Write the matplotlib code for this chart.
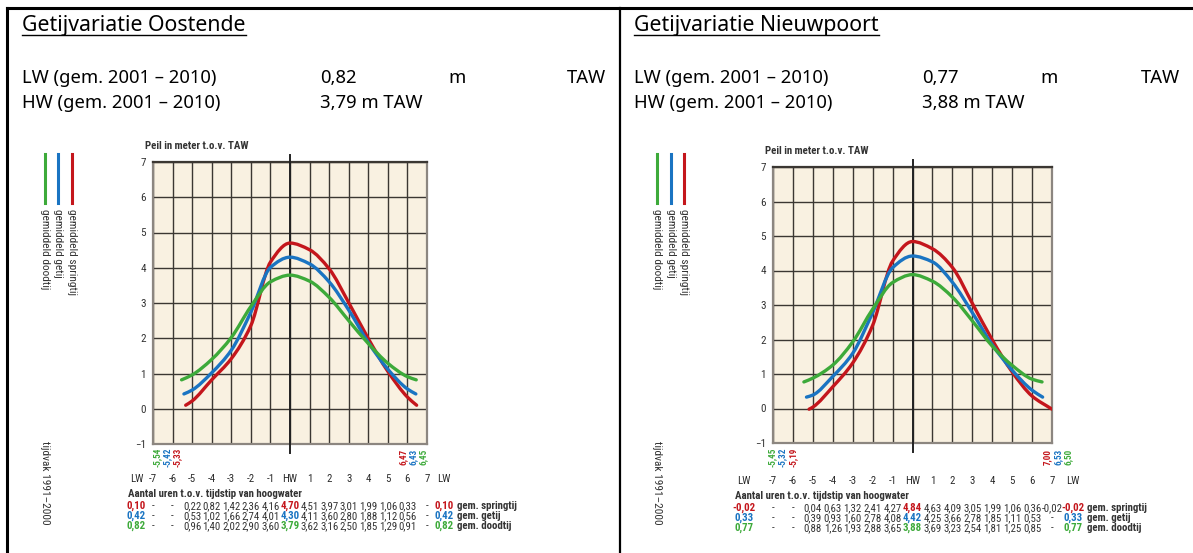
import numpy as np
import matplotlib
matplotlib.use('Agg')
import matplotlib.pyplot as plt
from matplotlib import font_manager as fm
from matplotlib.path import Path
from matplotlib.patches import PathPatch
from matplotlib.lines import Line2D
from matplotlib.transforms import blended_transform_factory

W, H = 1193, 553

# hours relative to high water, shared by both stations
hours = [-5, -4, -3, -2, -1, 0, 1, 2, 3, 4, 5, 6, 7]
series_names = ['gem. springtij', 'gem. getij', 'gem. doodtij']
legend_names = ['gemiddeld springtij', 'gemiddeld getij', 'gemiddeld doodtij']
colors = ['#c4161c', '#1a74c2', '#3daa3a']

# Oostende
oost_lw = [0.10, 0.42, 0.82]
oost_start = [-5.33, -5.42, -5.54]
oost_end = [6.47, 6.43, 6.45]
oost_spring = [0.22, 0.82, 1.42, 2.36, 4.16, 4.70, 4.51, 3.97, 3.01, 1.99, 1.06, 0.33, None]
oost_mean = [0.53, 1.02, 1.66, 2.74, 4.01, 4.30, 4.11, 3.60, 2.80, 1.88, 1.12, 0.56, None]
oost_neap = [0.96, 1.40, 2.02, 2.90, 3.60, 3.79, 3.62, 3.16, 2.50, 1.85, 1.29, 0.91, None]

# Nieuwpoort
nieu_lw = [-0.02, 0.33, 0.77]
nieu_start = [-5.19, -5.32, -5.45]
nieu_end = [7.00, 6.53, 6.50]
nieu_spring = [0.04, 0.63, 1.32, 2.41, 4.27, 4.84, 4.63, 4.09, 3.05, 1.99, 1.06, 0.36, -0.02]
nieu_mean = [0.39, 0.93, 1.60, 2.78, 4.08, 4.42, 4.25, 3.66, 2.78, 1.85, 1.11, 0.53, None]
nieu_neap = [0.88, 1.26, 1.93, 2.88, 3.65, 3.88, 3.69, 3.23, 2.54, 1.81, 1.25, 0.85, None]

TXT = '#333333'
CREAM = '#f9f1e1'
GRID = '#3b3732'
head = ['Noto Sans', 'DejaVu Sans']


def pick_narrow():
    # look for a narrow sans for the small chart lettering
    narrow = {'condensed', 'semi-condensed', 'extra-condensed', 'ultra-condensed'}
    entries = fm.fontManager.ttflist
    for name in ['Liberation Sans Narrow', 'Roboto Condensed', 'Open Sans Condensed',
                 'Noto Sans Display', 'Noto Sans', 'Open Sans', 'DejaVu Sans',
                 'Roboto', 'Inter', 'Lato']:
        for f in entries:
            if f.name != name:
                continue
            if name.endswith(('Narrow', 'Condensed')):
                return name, 'normal', 1.0
            if str(f.stretch) in narrow:
                return name, str(f.stretch), 1.0
    return 'Roboto', 'normal', 0.88


COND, STRETCH, SC = pick_narrow()


def ctext(x, y, s, size, **kw):
    kw.setdefault('color', TXT)
    return fig.text(x, y, s, family=COND, fontstretch=STRETCH,
                    fontsize=size * SC, **kw)


def fx(px):
    return px / W


def fy(py):
    return 1 - py / H


def fmt(v):
    return f'{v:.2f}'.replace('.', ',')


def smooth_path(x, y):
    # cubic bezier through the points, monotone tangents (no overshoot)
    x = np.asarray(x, float)
    y = np.asarray(y, float)
    h = np.diff(x)
    d = np.diff(y) / h
    m = np.zeros_like(y)
    m[0], m[-1] = d[0], d[-1]
    for i in range(1, len(x) - 1):
        if d[i - 1] * d[i] <= 0:
            m[i] = 0.0
        else:
            w1 = 2 * h[i] + h[i - 1]
            w2 = h[i] + 2 * h[i - 1]
            m[i] = (w1 + w2) / (w1 / d[i - 1] + w2 / d[i])
    verts = [(x[0], y[0])]
    codes = [Path.MOVETO]
    for i in range(len(x) - 1):
        verts += [(x[i] + h[i] / 3, y[i] + m[i] * h[i] / 3),
                  (x[i + 1] - h[i] / 3, y[i + 1] - m[i + 1] * h[i] / 3),
                  (x[i + 1], y[i + 1])]
        codes += [Path.CURVE4] * 3
    return Path(verts, codes)


fig = plt.figure(figsize=(W / 100, H / 100), dpi=100)

# frame lines of the sheet
fig.add_artist(Line2D([fx(7), 1], [fy(8), fy(8)], color='black', lw=2.2))
fig.add_artist(Line2D([fx(7), fx(7)], [fy(8), 0], color='black', lw=2.2))
fig.add_artist(Line2D([fx(620), fx(620)], [fy(8), 0], color='black', lw=1.6))


def draw_panel(x0, title, lw_val, hw_val, val_x, unit_x, taw_x,
               box, lw_vals, starts, ends, rows,
               start_px, end_px, lw_pos, ticky, rowy, leg_x):
    # header block
    t = fig.text(fx(x0 + 22), fy(25), title, family=head, fontsize=15.3,
                 color='black', va='center')
    fig.canvas.draw()
    bb = t.get_window_extent()
    fig.add_artist(Line2D([bb.x0 / W, bb.x1 / W], [fy(35), fy(35)],
                          color='black', lw=1.0))
    fig.text(fx(x0 + 22), fy(78), 'LW (gem. 2001 – 2010)', family=head,
             fontsize=13.3, va='center')
    fig.text(fx(x0 + val_x), fy(78), lw_val, family=head, fontsize=13.3,
             va='center')
    fig.text(fx(x0 + unit_x), fy(78), 'm', family=head, fontsize=13.3,
             va='center')
    fig.text(fx(x0 + taw_x), fy(78), 'TAW', family=head, fontsize=13.3,
             va='center', ha='right')
    fig.text(fx(x0 + 22), fy(103), 'HW (gem. 2001 – 2010)', family=head,
             fontsize=13.3, va='center')
    fig.text(fx(x0 + val_x), fy(103), hw_val + ' m TAW', family=head,
             fontsize=13.3, va='center')

    # legend: short vertical strokes with rotated names
    for i in range(3):
        lx = leg_x[i]
        fig.add_artist(Line2D([fx(lx), fx(lx)], [fy(154), fy(203)],
                              color=colors[i], lw=2.2))
        ctext(fx(lx), fy(209), legend_names[i], 8.2, rotation=-90,
              ha='center', va='top')
    ctext(fx(leg_x[2]), fy(483), 'tijdvak 1991–2000', 8.2, rotation=-90,
          ha='center', va='center')

    left, top, right, bottom = box
    ax = fig.add_axes([fx(left), fy(bottom), fx(right - left),
                       (bottom - top) / H])
    ax.set_facecolor(CREAM)
    ax.set_xlim(-7, 7)
    ax.set_ylim(-1, 7)
    ax.set_xticks(range(-7, 8))
    ax.set_yticks(range(-1, 8))
    ax.set_xticklabels([])
    ax.tick_params(length=0, labelsize=8 * SC, colors=TXT, pad=5)
    for lab in ax.get_yticklabels():
        lab.set_family(COND)
        lab.set_stretch(STRETCH)
    ax.grid(True, color=GRID, lw=1.0)
    for s in ax.spines.values():
        s.set_color('#8c8680')
        s.set_linewidth(1.6)
    ax.spines['top'].set_color(GRID)
    ax.plot([0, 0], [-1.25, 7.2], color='#222222', lw=1.4, clip_on=False,
            zorder=3)
    ctext(fx(left - 8), fy(top - 16), 'Peil in meter t.o.v. TAW', 7.8,
          fontweight='bold', ha='left', va='center')

    # tide curves
    for i, vals in enumerate(rows):
        xs = [starts[i]]
        ys = [lw_vals[i]]
        for h, v in zip(hours, vals):
            if v is not None and starts[i] < h < ends[i]:
                xs.append(h)
                ys.append(v)
        xs.append(ends[i])
        ys.append(lw_vals[i])
        ax.add_patch(PathPatch(smooth_path(xs, ys), fill=False,
                               ec=colors[i], lw=2.4, zorder=4,
                               capstyle='round', joinstyle='round'))

    # rotated begin/end times of the curves
    for i in range(3):
        ctext(fx(start_px[i]), fy(457), fmt(starts[i]), 6.6,
              fontweight='bold', color=colors[i], rotation=90,
              ha='center', va='center')
        ctext(fx(end_px[i]), fy(457), fmt(ends[i]), 6.6,
              fontweight='bold', color=colors[i], rotation=90,
              ha='center', va='center')

    # hour axis labels and value table under the chart
    tr = blended_transform_factory(ax.transData, fig.transFigure)
    col_x = [lw_pos[0]] + list(range(-7, 8)) + [lw_pos[1]]
    col_lab = ['LW'] + [str(h) for h in range(-7, 0)] + ['HW'] + \
              [str(h) for h in range(1, 8)] + ['LW']
    for cx, cl in zip(col_x, col_lab):
        ax.text(cx, fy(ticky), cl, transform=tr, family=COND,
                fontstretch=STRETCH, fontsize=7.8 * SC, color='#2a2a2a',
                ha='center', va='center')
    ax.text(lw_pos[0] - 0.45, fy(ticky + 15),
            'Aantal uren t.o.v. tijdstip van hoogwater', transform=tr,
            family=COND, fontstretch=STRETCH, fontsize=7.8 * SC,
            fontweight='bold', color=TXT, ha='left', va='center')
    for i, vals in enumerate(rows):
        yy = fy(rowy + 10 * i)
        cells = [(lw_pos[0], fmt(lw_vals[i]), True)]
        cells += [(-7, '-', False), (-6, '-', False)]
        for h, v in zip(hours, vals):
            cells.append((h, '-' if v is None else fmt(v), h == 0))
        cells.append((lw_pos[1], fmt(lw_vals[i]), True))
        for cx, s, hl in cells:
            ax.text(cx, yy, s, transform=tr, family=COND,
                    fontstretch=STRETCH, fontsize=7.8 * SC,
                    color=colors[i] if hl else TXT,
                    fontweight='bold' if hl else 'normal',
                    ha='center', va='center')
        ax.text(lw_pos[1] + 0.7, yy, series_names[i], transform=tr,
                family=COND, fontstretch=STRETCH, fontsize=7.8 * SC,
                fontweight='bold', color=TXT, ha='left', va='center')
    return ax


draw_panel(0, 'Getijvariatie Oostende', '0,82', '3,79', 320, 448, 606,
           (153, 162, 427, 444), oost_lw, oost_start, oost_end,
           [oost_spring, oost_mean, oost_neap],
           [177, 167, 157], [403, 413, 423], (-7.85, 7.85), 479, 506,
           [72, 58, 45])

draw_panel(612, 'Getijvariatie Nieuwpoort', '0,77', '3,88', 310, 428, 568,
           (773, 167, 1052, 443), nieu_lw, nieu_start, nieu_end,
           [nieu_spring, nieu_mean, nieu_neap],
           [793, 782, 772], [1047, 1058, 1068], (-8.45, 8.05), 481, 508,
           [684, 671, 657])

fig.savefig('out.png', dpi=100)
